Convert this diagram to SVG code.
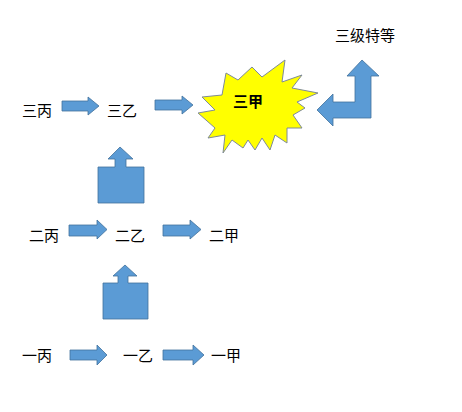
<svg xmlns="http://www.w3.org/2000/svg" width="462" height="412" viewBox="0 0 462 412">
<style>
.t{font-family:"Liberation Sans","Noto Sans CJK SC",sans-serif;font-size:15px;fill:#000}
.b{font-weight:bold}
.arr{fill:#5B9BD5;stroke:#41719C;stroke-width:0.8}
.star{fill:#FFFF00;stroke:#7E8A99;stroke-width:1}
</style>
<defs>
<path id="ra" d="M0,-5 H26 V-10 H37 L37,0 L37,0 L26,10 V5 H0 Z"/>
</defs>
<rect width="462" height="412" fill="#fff"/>
<g id="star3">
<polygon class="star" points="226,73 238,80 252,67 262,77 285,60 282,82 302,75 292,88 318,93 297,102 305,108 293,115 302,128 287,128 287,143 275,135 270,150 262,138 255,150 248,140 243,148 232,140 223,153 225,135 208,138 215,128 198,113 215,110 202,97 222,95"/>
<text class="t b" x="248" y="107" text-anchor="middle">三甲</text>
</g>
<g id="n-sanbing"><text class="t" x="37" y="116" text-anchor="middle">三丙</text></g>
<g id="n-sanyi"><text class="t" x="122" y="116" text-anchor="middle">三乙</text></g>
<g id="n-tedeng"><text class="t" x="365" y="41" text-anchor="middle">三级特等</text></g>
<g id="n-erbing"><text class="t" x="44" y="241" text-anchor="middle">二丙</text></g>
<g id="n-eryi"><text class="t" x="130" y="241" text-anchor="middle">二乙</text></g>
<g id="n-erjia"><text class="t" x="224" y="241" text-anchor="middle">二甲</text></g>
<g id="n-yibing"><text class="t" x="37" y="361" text-anchor="middle">一丙</text></g>
<g id="n-yiyi"><text class="t" x="138" y="361" text-anchor="middle">一乙</text></g>
<g id="n-yijia"><text class="t" x="226" y="361" text-anchor="middle">一甲</text></g>
<g id="connectors">
<path class="arr" d="M62,101 H88 V97 L99,106 L88,115 V111 H62 Z"/>
<path class="arr" d="M155,100 H182 V96 L193,105 L182,114 V110 H155 Z"/>
<path class="arr" d="M69,225 H97 V220 L107,229.5 L97,239 V236 H69 Z"/>
<path class="arr" d="M163,225 H190 V220 L201,229.5 L190,239 V236 H163 Z"/>
<path class="arr" d="M70,350 H97 V345 L107,355 L97,365 V360 H70 Z"/>
<path class="arr" d="M163,350 H193 V345 L204,355 L193,365 V360 H163 Z"/>
<path class="arr" d="M98,167 H115 V159 H108 L120,147 L133,159 H126 V167 H144 V203 H98 Z"/>
<path class="arr" d="M103,283 H118 V276 H113 L125,265 L137,276 H128 V283 H148 V319 H103 Z"/>
<path class="arr" d="M317,110 L333,94 V102 H355 V76 H347 L362,60 L379,76 H371 V118 H333 V126 Z"/>
</g>
</svg>
